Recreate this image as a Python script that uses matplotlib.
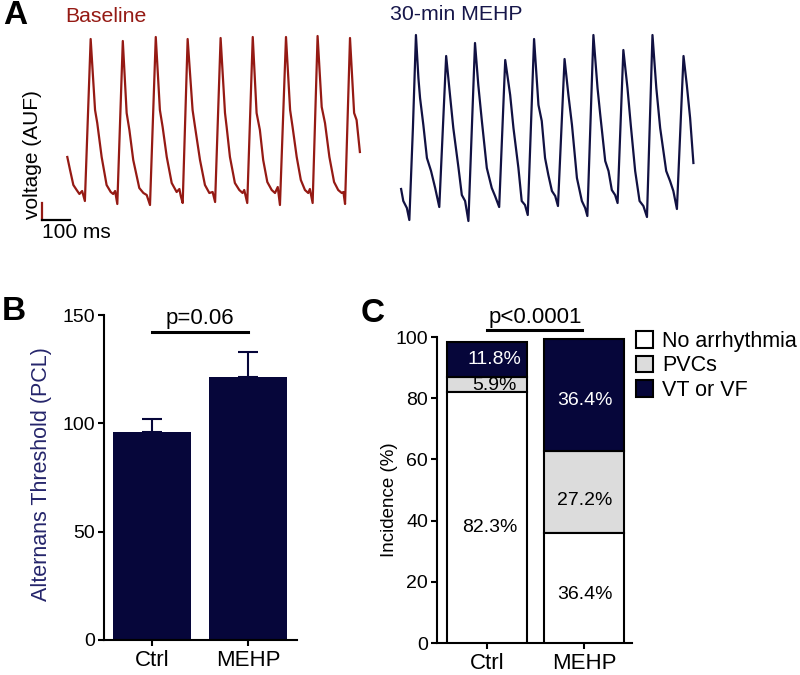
import numpy as np
import matplotlib.pyplot as plt
from matplotlib.patches import Patch

plt.rcParams['font.family'] = ['Liberation Sans', 'DejaVu Sans']
plt.rcParams['font.size'] = 14

# A: optical action potentials, time (ms) and voltage (AUF)
baseline_t = [0, 10, 22, 34, 44, 54, 64,
              85, 101, 109, 125, 143, 158, 167, 174, 182,
              202, 216, 226, 240, 262, 277, 289, 301,
              322, 337, 347, 362, 380, 398, 408, 413, 420,
              438, 456, 465, 483, 501, 517, 529, 538,
              558, 574, 580, 592, 610, 626, 638, 644, 655,
              675, 689, 701, 713, 728, 744, 756, 766, 774,
              796, 811, 820, 835, 850, 865, 877, 883, 893,
              911, 926, 938, 954, 971, 986, 999, 1005, 1011,
              1029, 1044, 1053, 1065]
baseline_v = [63, 50, 35, 30, 26, 29, 19,
              181, 110, 97, 63, 35, 28, 26, 29, 16,
              179, 107, 90, 60, 32, 27, 25, 15,
              183, 110, 93, 63, 37, 28, 31, 24, 17,
              181, 110, 93, 60, 35, 27, 28, 18,
              182, 107, 93, 63, 37, 30, 27, 30, 17,
              183, 107, 90, 60, 38, 30, 27, 33, 15,
              183, 110, 93, 63, 40, 30, 27, 31, 17,
              184, 113, 97, 63, 38, 30, 27, 28, 16,
              182, 107, 100, 68]
mehp_t = [0, 8, 21, 30,
          43, 54, 63, 69, 81, 94, 109, 124, 139,
          164, 178, 190, 209, 221, 233, 245,
          269, 281, 294, 312, 330, 342, 357,
          379, 397, 409, 427, 439, 451, 461,
          484, 500, 512, 524, 536, 549, 561, 571,
          595, 609, 622, 640, 658, 670, 678,
          700, 715, 725, 743, 755, 767, 779, 788,
          809, 824, 836, 852, 868, 882, 895,
          915, 929, 943, 965, 979, 991, 1004,
          1028, 1040, 1052, 1064]
mehp_v = [31, 19, 12, 0,
          92, 185, 142, 122, 95, 62, 49, 32, 13,
          164, 125, 92, 52, 25, 19, -1,
          177, 135, 99, 52, 32, 24, 13,
          160, 125, 92, 52, 19, 15, 5,
          181, 115, 99, 62, 45, 29, 24, 14,
          161, 125, 95, 42, 19, 12, 4,
          185, 132, 105, 59, 49, 30, 25, 17,
          170, 132, 95, 49, 19, 14, 3,
          185, 132, 92, 49, 39, 29, 11,
          164, 135, 102, 57]

# B: alternans threshold
groups = ['Ctrl', 'MEHP']
alt_mean = [96, 121.5]
alt_sem = [6, 11.3]

# C: arrhythmia incidence
classes = ['No arrhythmia', 'PVCs', 'VT or VF']
ctrl_pct = [82.3, 5.9, 11.8]
mehp_pct = [36.4, 27.2, 36.4]
ctrl_bar = [82.0, 4.8, 11.7]
mehp_bar = [35.8, 26.9, 36.6]

red = '#951a14'
navy = '#06063a'
W, H = 800, 675


def box(l, t, r, b):
    return [l / W, 1 - b / H, (r - l) / W, (b - t) / H]


fig = plt.figure(figsize=(8, 6.75), dpi=100)

# ---- A ----
axA = fig.add_axes(box(0, 0, 800, 260))
axA.axis('off')
axA.set_xlim(-245, 2667)
axA.set_ylim(-40, 220)
mehp_offset = 1215
axA.plot(baseline_t, baseline_v, color=red, lw=1.6, solid_joinstyle='round')
axA.plot(np.array(mehp_t) + mehp_offset, mehp_v, color='#111142', lw=1.6,
         solid_joinstyle='round')
# scale bar
axA.plot([-92, -92], [0, 17], color=red, lw=1.6)
axA.plot([-92, 8], [0, 0], color='black', lw=1.6)
axA.text(-92, -13, '100 ms', ha='left', va='center', fontsize=15)
axA.text(-125, 65, 'voltage (AUF)', rotation=90, ha='center', va='center', fontsize=15)
fig.text(65 / W, 1 - 17 / H, 'Baseline', color=red, fontsize=15.3, va='center')
fig.text(390 / W, 1 - 15 / H, '30-min MEHP', color='#16164a', fontsize=15.3, va='center')
fig.text(3 / W, 1 - 16 / H, 'A', fontsize=24, fontweight='bold', va='center')

# ---- B ----
axB = fig.add_axes(box(104, 315, 297, 640))
x = np.arange(len(groups))
axB.bar(x, alt_mean, width=0.81, color=navy,
        yerr=[[0, 0], alt_sem], capsize=7,
        error_kw=dict(ecolor=navy, elinewidth=1.5, capthick=1.5))
axB.set_xlim(-0.5, 1.51)
axB.set_ylim(0, 150)
axB.set_yticks([0, 50, 100, 150])
axB.set_xticks(x)
axB.set_xticklabels(groups, fontsize=16)
axB.plot([0, 1], [142.2, 142.2], color='black', lw=2.2, clip_on=False)
axB.text(0.5, 145.8, 'p=0.06', ha='center', va='baseline', fontsize=16)
axB.set_ylabel('Alternans Threshold (PCL)', color='#25256b', fontsize=15.5)
axB.yaxis.set_label_coords(-0.27, 0.51)
fig.text(2 / W, 1 - 312 / H, 'B', fontsize=24, fontweight='bold', va='center')

# ---- C ----
axC = fig.add_axes(box(437, 337, 632, 643))
colors = ['white', '#dcdcdc', navy]
data = np.array([ctrl_bar, mehp_bar])
bottoms = np.cumsum(data, axis=1) - data
for k in range(3):
    axC.bar(x, data[:, k], bottom=bottoms[:, k], width=0.825, color=colors[k],
            edgecolor='black', linewidth=1.5, zorder=3 if k == 0 else 1)
label_pos = [[(0.03, 37.9), (0.08, 84.3), (0.08, 92.5)],
             [(1.01, 15.7), (1.01, 46.7), (1.01, 79.1)]]
txt_colors = ['black', 'black', 'white']
for g, pcts in enumerate([ctrl_pct, mehp_pct]):
    for k, p in enumerate(pcts):
        px, py = label_pos[g][k]
        axC.text(px, py, f'{p}%', ha='center', va='center', color=txt_colors[k],
                 zorder=2 if (g == 0 and k == 1) else 5)
axC.set_xlim(-0.515, 1.495)
axC.set_ylim(0, 100)
axC.set_yticks([0, 20, 40, 60, 80, 100])
axC.set_xticks(x)
axC.set_xticklabels(groups, fontsize=16)
axC.plot([0, 0.98], [102.3, 102.3], color='black', lw=2.2, clip_on=False)
axC.text(0.5, 104.5, 'p<0.0001', ha='center', va='baseline', fontsize=16)
axC.set_ylabel('Incidence (%)', fontsize=13.5)
axC.yaxis.set_label_coords(-0.2, 0.467)
fig.text(361 / W, 1 - 313 / H, 'C', fontsize=24, fontweight='bold', va='center')

handles = [Patch(facecolor=c, edgecolor='black', linewidth=1.5) for c in colors]
fig.legend(handles, classes, loc='upper left', bbox_to_anchor=(636 / W, 1 - 331 / H),
           frameon=False, handlelength=0.79, handleheight=0.79, handletextpad=0.42,
           labelspacing=0.16, borderpad=0, borderaxespad=0, fontsize=15.5)

for ax in (axB, axC):
    for s in ('top', 'right'):
        ax.spines[s].set_visible(False)
    for s in ('left', 'bottom'):
        ax.spines[s].set_linewidth(1.5)
    ax.tick_params(width=1.5, length=4.5, pad=2)
    ax.tick_params(axis='x', pad=3)

fig.savefig('out.png', dpi=100)
